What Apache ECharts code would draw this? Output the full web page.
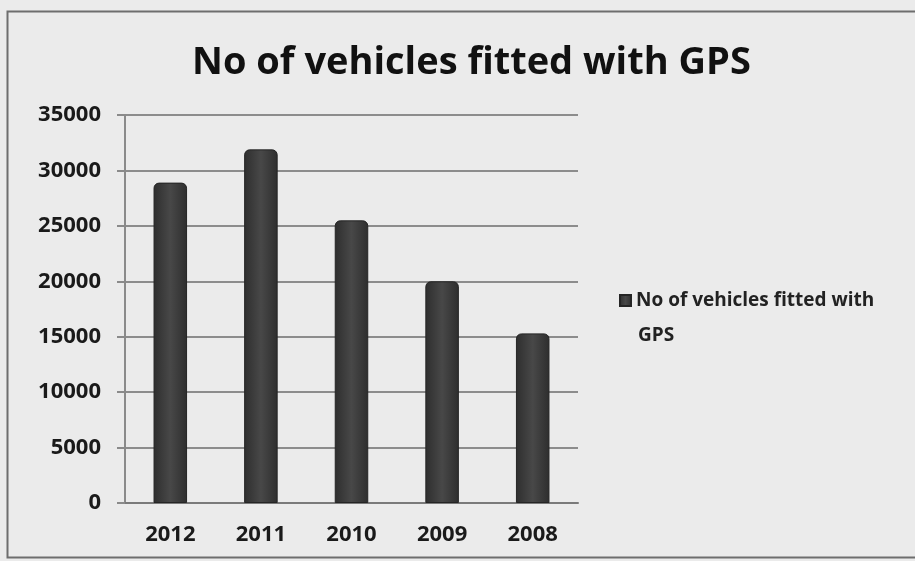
<!DOCTYPE html>
<html>
<head>
<meta charset="utf-8">
<script src="https://cdn.jsdelivr.net/npm/echarts@6/dist/echarts.min.js"></script>
<style>html,body{margin:0;padding:0;background:#ebebeb;}#c{width:915px;height:561px;}</style>
</head>
<body>
<div id="c"></div>
<script>
const titleText = 'No of vehicles fitted with GPS';
const seriesName = 'No of vehicles fitted with GPS';
const legendLines = ['No of vehicles fitted with', 'GPS'];
const categories = ['2012', '2011', '2010', '2009', '2008'];
const values = [28900, 31900, 25500, 20000, 15300];
const yTicks = [0, 5000, 10000, 15000, 20000, 25000, 30000, 35000];

const chart = echarts.init(document.getElementById('c'));
const font = '"Open Sans", "DejaVu Sans", sans-serif';
chart.setOption({
  backgroundColor: '#ebebeb',
  animation: false,
  graphic: [{
    type: 'rect', left: 5, top: 9, shape: {width: 912, height: 546},
    style: {fill: 'none', stroke: '#6e6e6e', lineWidth: 2}, silent: true, z: -1
  }, {
    type: 'text', left: 638, top: 326,
    style: {text: legendLines[1], font: 'bold 19px ' + font, fill: '#222'}
  }],
  title: {
    text: titleText, left: 187, top: 39,
    textStyle: {fontFamily: font, fontWeight: 'bold', fontSize: 38, color: '#111'}
  },
  legend: {
    show: true, left: 614, top: 286, orient: 'vertical',
    itemWidth: 11, itemHeight: 11,
    icon: 'rect',
    data: [seriesName],
    formatter: function () { return legendLines[0]; },
    textStyle: {fontFamily: font, fontWeight: 'bold', fontSize: 19, color: '#222'}
  },
  grid: {left: 125, right: 337, top: 115, bottom: 58, containLabel: false},
  xAxis: {
    type: 'category', data: categories,
    axisLine: {lineStyle: {color: '#7a7a7a', width: 2}},
    axisTick: {show: false},
    axisLabel: {fontFamily: font, fontWeight: 'bold', fontSize: 22, color: '#1a1a1a', margin: 21}
  },
  yAxis: {
    type: 'value', min: 0, max: 35000, interval: 5000,
    axisLine: {show: true, lineStyle: {color: '#8a8a8a', width: 2}},
    axisTick: {show: true, length: 8, lineStyle: {color: '#8a8a8a', width: 2}},
    splitLine: {lineStyle: {color: '#8c8c8c', width: 2}},
    axisLabel: {fontFamily: font, fontWeight: 'bold', fontSize: 22, color: '#1a1a1a', margin: 24,
      formatter: function (v) { return String(v); }}
  },
  series: [{
    name: seriesName, type: 'bar', data: values, barWidth: '37%',
    itemStyle: {
      color: new echarts.graphic.LinearGradient(0, 0, 1, 0, [
        {offset: 0, color: '#2e2e2e'},
        {offset: 0.5, color: '#484848'},
        {offset: 1, color: '#2e2e2e'}
      ]),
      borderColor: '#252525', borderWidth: 1, borderRadius: [5, 5, 0, 0]
    }
  }]
});
</script>
</body>
</html>
